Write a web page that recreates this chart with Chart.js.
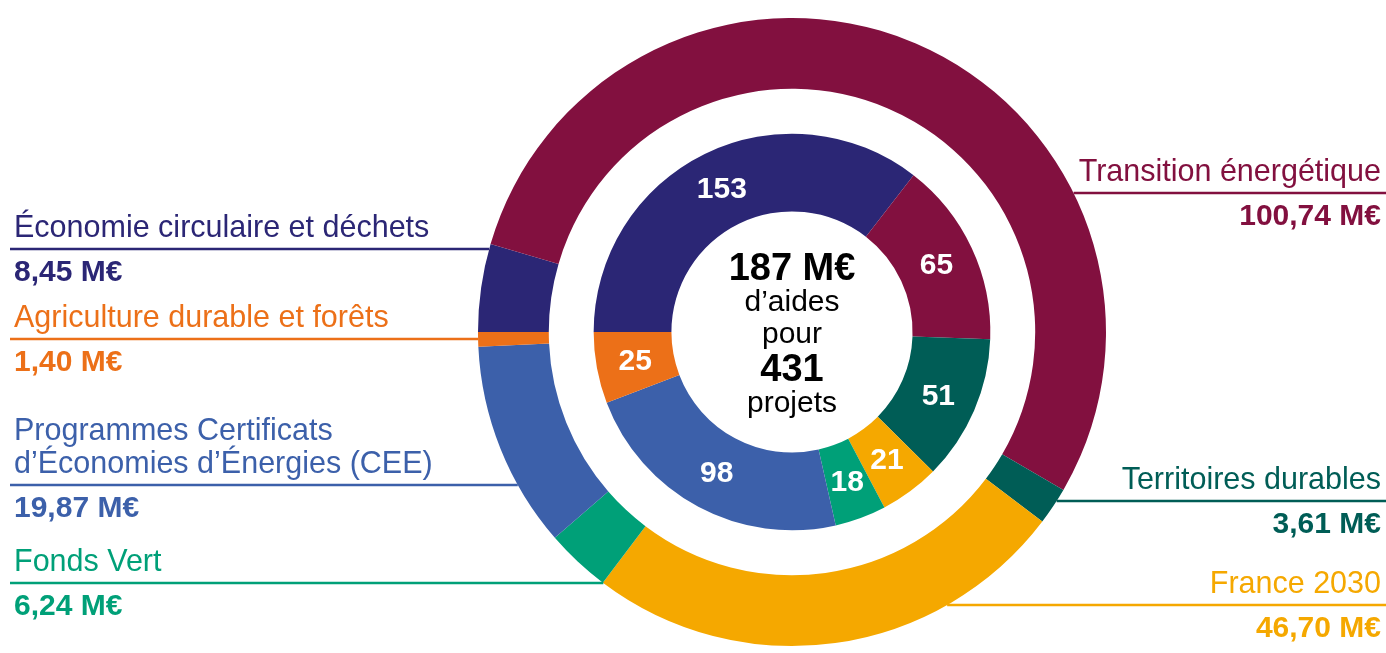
<!DOCTYPE html>
<html lang="fr">
<head>
<meta charset="utf-8">
<title>Aides par thématique</title>
<script src="https://cdn.jsdelivr.net/npm/chart.js@4/dist/chart.umd.min.js"></script>
<style>
  html, body { margin: 0; padding: 0; background: #fff; }
  #wrap { width: 1386px; height: 653px; position: relative; }
</style>
</head>
<body>
<div id="wrap"><canvas id="donut"></canvas></div>
<script>
// données
const categories = [
  'Économie circulaire et déchets',
  'Transition énergétique',
  'Territoires durables',
  'France 2030',
  'Fonds Vert',
  'Programmes Certificats\nd’Économies d’Énergies (CEE)',
  'Agriculture durable et forêts'
];
const montants = [8.45, 100.74, 3.61, 46.70, 6.24, 19.87, 1.40];   // M€
const projets = [153, 65, 51, 21, 18, 98, 25];                     // nombre de projets
const couleurs = ['#2B2675', '#82103F', '#005D56', '#F5A800', '#00A078', '#3C60AA', '#EC7018'];

const FONT = "'Liberation Sans', Arial, sans-serif";

// position des étiquettes latérales (côté + hauteur du trait)
const etiquettes = [
  { side: 'left',  lineY: 249 },
  { side: 'right', lineY: 193 },
  { side: 'right', lineY: 501 },
  { side: 'right', lineY: 605 },
  { side: 'left',  lineY: 583 },
  { side: 'left',  lineY: 485 },
  { side: 'left',  lineY: 339 }
];

function fmt(v) {
  return v.toFixed(2).replace('.', ',') + ' M€';
}

const labelsPlugin = {
  id: 'labelsPlugin',
  afterDraw(chart) {
    const ctx = chart.ctx;
    const outer = chart.getDatasetMeta(0);
    const inner = chart.getDatasetMeta(2);
    const arc0 = outer.data[0];
    const cx = arc0.x, cy = arc0.y, R = arc0.outerRadius;

    ctx.save();

    // valeurs dans l'anneau intérieur
    ctx.fillStyle = '#fff';
    ctx.font = 'bold 30px ' + FONT;
    ctx.textAlign = 'center';
    ctx.textBaseline = 'middle';
    inner.data.forEach((arc, i) => {
      const p = arc.getCenterPoint();
      ctx.fillText(String(projets[i]), p.x, p.y + 1);
    });

    // texte central
    const totalM = Math.round(montants.reduce((a, b) => a + b, 0));
    const totalP = projets.reduce((a, b) => a + b, 0);
    ctx.fillStyle = '#000';
    ctx.textBaseline = 'alphabetic';
    ctx.font = 'bold 38px ' + FONT;
    ctx.fillText(totalM + ' M€', cx, cy - 52);
    ctx.font = '30px ' + FONT;
    ctx.fillText('d’aides', cx, cy - 21);
    ctx.fillText('pour', cx, cy + 11);
    ctx.font = 'bold 38px ' + FONT;
    ctx.fillText(String(totalP), cx, cy + 49);
    ctx.font = '30px ' + FONT;
    ctx.fillText('projets', cx, cy + 80);

    // étiquettes latérales avec traits
    etiquettes.forEach((e, i) => {
      const col = couleurs[i];
      const dy = e.lineY - cy;
      const dx = Math.sqrt(Math.max(R * R - dy * dy, 0));
      ctx.strokeStyle = col;
      ctx.fillStyle = col;
      ctx.lineWidth = 2.5;
      ctx.beginPath();
      if (e.side === 'left') {
        ctx.moveTo(10, e.lineY);
        ctx.lineTo(cx - dx, e.lineY);
      } else {
        ctx.moveTo(cx + dx, e.lineY);
        ctx.lineTo(1386, e.lineY);
      }
      ctx.stroke();

      const x = e.side === 'left' ? 14 : 1381;
      ctx.textAlign = e.side === 'left' ? 'left' : 'right';
      const lignes = categories[i].split('\n');
      ctx.font = '30.5px ' + FONT;
      lignes.forEach((t, k) => {
        ctx.fillText(t, x, e.lineY - 12 - (lignes.length - 1 - k) * 33);
      });
      ctx.font = 'bold 30px ' + FONT;
      ctx.fillText(fmt(montants[i]), x, e.lineY + 32);
    });

    ctx.restore();
  }
};

const ctx = document.getElementById('donut').getContext('2d');
const chart = new Chart(ctx, {
  type: 'doughnut',
  data: {
    labels: categories,
    datasets: [
      {
        label: 'Montant des aides (M€)',
        data: montants,
        backgroundColor: couleurs,
        weight: 71
      },
      {
        label: 'espace',
        data: [1],
        backgroundColor: ['rgba(0,0,0,0)'],
        weight: 45
      },
      {
        label: 'Nombre de projets',
        data: projets,
        backgroundColor: couleurs,
        weight: 78
      }
    ]
  },
  options: {
    responsive: true,
    maintainAspectRatio: false,
    animation: false,
    events: [],
    rotation: -90,
    cutout: '38.4%',
    borderWidth: 0,
    hoverOffset: 0,
    layout: { padding: { top: 16, bottom: 5, left: 478, right: 280 } },
    plugins: {
      legend: { display: false },
      tooltip: { enabled: false }
    }
  },
  plugins: [labelsPlugin]
});
</script>
</body>
</html>
